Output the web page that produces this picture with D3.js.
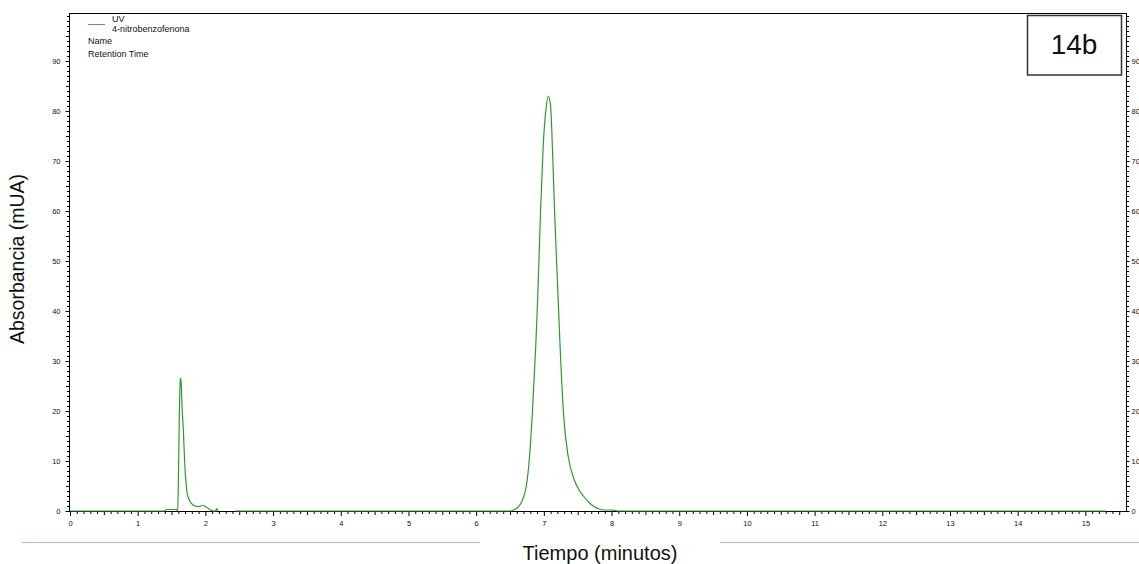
<!DOCTYPE html>
<html>
<head>
<meta charset="utf-8">
<script src="https://cdn.jsdelivr.net/npm/d3@7"></script>
<style>
  html, body { margin: 0; padding: 0; background: #fff; }
  svg { display: block; font-family: "Liberation Sans", Arial, sans-serif; }
</style>
</head>
<body>
<svg id="chart" width="1139" height="564"></svg>
<script>
// ---- Data ----
const timeMin = [
  0, 1.40, 1.42, 1.57, 1.59, 1.60, 1.615, 1.628, 1.636, 1.645, 1.655, 1.665, 1.675,
  1.69, 1.70, 1.712, 1.724, 1.745, 1.773, 1.81, 1.847, 1.90, 1.969, 2.0, 2.043, 2.08,
  2.117, 2.15, 2.167, 2.18, 2.191,
  2.30,
  2.44, 6.45, 6.51, 6.57, 6.62, 6.66, 6.70, 6.73, 6.78, 6.83, 6.88, 6.91, 6.95, 6.99,
  7.03, 7.066, 7.10, 7.126, 7.16, 7.20, 7.24, 7.29, 7.36, 7.45, 7.52, 7.59, 7.66, 7.74,
  7.82, 7.89, 8.0, 8.06, 8.10, 15.30
];
const absorbance = [
  0, 0, 0.3, 0.3, 0, 5, 19, 26, 26.6, 25, 21, 18.5, 16,
  11, 8.2, 6, 4.2, 2.8, 1.9, 1.3, 1.0, 0.9, 1.1, 0.9, 0.5, 0.2,
  0, 0, 0.5, 0.1, 0,
  null,
  0, 0, 0, 0.3, 0.8, 1.5, 2.8, 4.2, 9.5, 19.5, 32.9, 42.9, 59.5, 72.9,
  80.2, 83, 80.9, 72.9, 59.5, 46.2, 32.9, 19.5, 10.9, 6.2, 4.2, 2.9, 1.8, 0.9,
  0.4, 0.2, 0.2, 0.1, 0, 0
];
const xTickLabels = [0,1,2,3,4,5,6,7,8,9,10,11,12,13,14,15];
const yTickLabels = [0,10,20,30,40,50,60,70,80,90];
const legendLines = ["UV", "4-nitrobenzofenona"];
const legendExtra = ["Name", "Retention Time"];
const panelLabel = "14b";
const xTitle = "Tiempo (minutos)";
const yTitle = "Absorbancia (mUA)";

// ---- Layout ----
const svg = d3.select("#chart");
const L = 70, R = 1126, T = 13, B = 511;
const x = d3.scaleLinear().domain([0, 15.6]).range([L, R]);
const y = d3.scaleLinear().domain([0, 99.6]).range([B, T]);
const green = "#2e9a2e";

// Minor/mid/major tick value sets
const xMinor = d3.range(0, 156).map(i => i / 10).filter(v => Math.abs(v*2 - Math.round(v*2)) > 1e-6);
const xMid = d3.range(0, 32).map(i => i / 2).filter(v => v % 1 !== 0 && v <= 15.6);
const yMinor = d3.range(0, 100).filter(v => v % 5 !== 0);
const yMid = d3.range(5, 100, 10);

function styleAxis(g) {
  g.select(".domain").remove();
  g.selectAll("line").attr("stroke", "#000").attr("stroke-width", 1);
  g.selectAll("text").attr("font-size", "7.5px").attr("fill", "#111")
    .attr("font-family", "'Liberation Sans', Arial, sans-serif");
}

// Bottom axis
const gx = svg.append("g").attr("transform", `translate(0,${B + 0.5})`);
gx.append("g").call(d3.axisBottom(x).tickValues(xMinor).tickSize(2.5).tickFormat("")).call(styleAxis);
gx.append("g").call(d3.axisBottom(x).tickValues(xMid).tickSize(3.5).tickFormat("")).call(styleAxis);
gx.append("g").call(d3.axisBottom(x).tickValues(xTickLabels).tickSize(4.5).tickPadding(5).tickFormat(d3.format("d"))).call(styleAxis);

// Left axis
const gyL = svg.append("g").attr("transform", `translate(${L - 0.5},0)`);
gyL.append("g").call(d3.axisLeft(y).tickValues(yMinor).tickSize(2.5).tickFormat("")).call(styleAxis);
gyL.append("g").call(d3.axisLeft(y).tickValues(yMid).tickSize(3.5).tickFormat("")).call(styleAxis);
gyL.append("g").call(d3.axisLeft(y).tickValues(yTickLabels).tickSize(4).tickPadding(5).tickFormat(d3.format("d"))).call(styleAxis);

// Right axis
const gyR = svg.append("g").attr("transform", `translate(${R + 0.5},0)`);
gyR.append("g").call(d3.axisRight(y).tickValues(yMinor).tickSize(2.5).tickFormat("")).call(styleAxis);
gyR.append("g").call(d3.axisRight(y).tickValues(yMid).tickSize(3.5).tickFormat("")).call(styleAxis);
gyR.append("g").call(d3.axisRight(y).tickValues(yTickLabels).tickSize(3).tickPadding(2).tickFormat(d3.format("d"))).call(styleAxis);

// Frame
svg.append("rect").attr("x", L - 0.5).attr("y", T + 0.5).attr("width", R - L + 1).attr("height", B - T)
  .attr("fill", "none").attr("stroke", "#000").attr("stroke-width", 1);

// Trace
const pts = timeMin.map((t, i) => ({t, v: absorbance[i]}));
const line = d3.line().defined(d => d.v !== null).curve(d3.curveMonotoneX)
  .x(d => x(d.t)).y(d => y(d.v));
svg.append("path").datum(pts).attr("d", line).attr("fill", "none")
  .attr("stroke", green).attr("stroke-width", 1.2).attr("stroke-linejoin", "round");

// Legend
svg.append("line").attr("x1", 88).attr("x2", 105).attr("y1", 24.5).attr("y2", 24.5)
  .attr("stroke", "#4aaa4a").attr("stroke-width", 1);
const legFont = "9px";
svg.append("text").attr("x", 112).attr("y", 21.5).attr("font-size", legFont).attr("fill", "#111").text(legendLines[0]);
svg.append("text").attr("x", 112).attr("y", 32).attr("font-size", legFont).attr("fill", "#111").text(legendLines[1]);
svg.append("text").attr("x", 88).attr("y", 44.3).attr("font-size", legFont).attr("fill", "#111").text(legendExtra[0]);
svg.append("text").attr("x", 88).attr("y", 56.7).attr("font-size", legFont).attr("fill", "#111").text(legendExtra[1]);

// Panel label box
svg.append("rect").attr("x", 1027.5).attr("y", 15.5).attr("width", 94).attr("height", 59.5)
  .attr("fill", "#fff").attr("stroke", "#333").attr("stroke-width", 1.5);
svg.append("text").attr("x", 1074).attr("y", 53.5).attr("text-anchor", "middle")
  .attr("font-size", "28px").attr("fill", "#111").text(panelLabel);

// Pink separator lines
svg.append("line").attr("x1", 22).attr("x2", 480).attr("y1", 542.5).attr("y2", 542.5)
  .attr("stroke", "#dbaabb").attr("stroke-width", 1);
svg.append("line").attr("x1", 720).attr("x2", 1139).attr("y1", 542.5).attr("y2", 542.5)
  .attr("stroke", "#dbaabb").attr("stroke-width", 1);

// Axis titles
svg.append("text").attr("x", 600).attr("y", 560).attr("text-anchor", "middle")
  .attr("font-size", "20px").attr("fill", "#111").text(xTitle);
svg.append("text").attr("transform", "translate(24,259) rotate(-90)").attr("text-anchor", "middle")
  .attr("font-size", "19.5px").attr("fill", "#111").text(yTitle);
</script>
</body>
</html>
